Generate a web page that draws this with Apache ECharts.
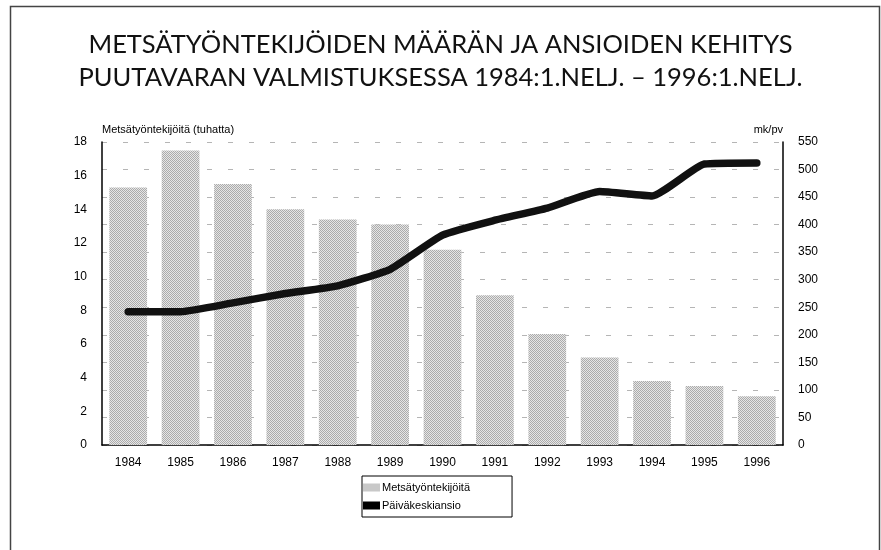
<!DOCTYPE html>
<html>
<head>
<meta charset="utf-8">
<script src="https://cdn.jsdelivr.net/npm/echarts@6/dist/echarts.min.js"></script>
<style>
  html, body { margin: 0; padding: 0; background: #fff; }
  #chart { width: 881px; height: 550px; }
</style>
</head>
<body>
<div id="chart"></div>
<script>
// vuodet (x-akseli)
const years = ['1984', '1985', '1986', '1987', '1988', '1989', '1990', '1991', '1992', '1993', '1994', '1995', '1996'];
// metsätyöntekijöitä, tuhatta (vasen akseli)
const workers = [15.3, 17.5, 15.5, 14.0, 13.4, 13.1, 11.6, 8.9, 6.6, 5.2, 3.8, 3.5, 2.9];
// päiväkeskiansio, mk/pv (oikea akseli)
const wages = [242, 242, 258, 275, 289, 319, 381, 408, 430, 460, 452, 510, 512];
// akseleiden jaot
const leftTicks = { min: 0, max: 18, interval: 2 };
const rightTicks = { min: 0, max: 550, interval: 50 };

// rasterikuvio pylväisiin (harmaa pisteruutu)
function makeDots() {
  const c = document.createElement('canvas');
  c.width = 2;
  c.height = 2;
  const ctx = c.getContext('2d');
  ctx.fillStyle = '#e6e6e6';
  ctx.fillRect(0, 0, 2, 2);
  ctx.fillStyle = '#ababab';
  ctx.fillRect(0, 0, 1, 1);
  ctx.fillRect(1, 1, 1, 1);
  return c;
}
const dots = { image: makeDots(), repeat: 'repeat' };

const font = 'Liberation Sans, Arial, sans-serif';
const chart = echarts.init(document.getElementById('chart'));

chart.setOption({
  animation: false,
  backgroundColor: '#fff',
  title: {
    text: 'METSÄTYÖNTEKIJÖIDEN MÄÄRÄN JA ANSIOIDEN KEHITYS\nPUUTAVARAN VALMISTUKSESSA 1984:1.NELJ. – 1996:1.NELJ.',
    left: 'center',
    top: 23,
    textStyle: {
      fontFamily: 'Lato, sans-serif',
      fontWeight: 'normal',
      fontSize: 25.5,
      lineHeight: 33,
      color: '#111',
    },
  },
  graphic: [
    { // kehys
      type: 'rect',
      shape: { x: 10.5, y: 6.5, width: 869, height: 560 },
      style: { fill: 'none', stroke: '#444', lineWidth: 1.5 },
      silent: true,
    },
  ],
  legend: {
    left: 362,
    top: 476,
    orient: 'vertical',
    itemGap: 7,
    itemWidth: 17,
    itemHeight: 8,
    padding: [6, 42, 6, 1],
    borderColor: '#000',
    borderWidth: 1,
    textStyle: { fontFamily: font, fontSize: 11, color: '#000', padding: [0, 0, 0, -3] },
    data: [
      { name: 'Metsätyöntekijöitä', icon: 'rect' },
      { name: 'Päiväkeskiansio', icon: 'rect', itemStyle: { color: '#000' } },
    ],
  },
  grid: { left: 102, right: 98, top: 142, bottom: 105 },
  xAxis: {
    type: 'category',
    data: years,
    axisLine: { lineStyle: { color: '#000', width: 1.5 } },
    axisTick: { show: false },
    axisLabel: { fontFamily: font, fontSize: 12, color: '#000', margin: 12 },
  },
  yAxis: [
    {
      type: 'value',
      ...leftTicks,
      name: 'Metsätyöntekijöitä (tuhatta)',
      nameGap: 7,
      nameTextStyle: { fontFamily: font, fontSize: 11, color: '#000', align: 'left' },
      axisLine: { show: true, lineStyle: { color: '#000', width: 1.5 } },
      axisTick: { show: false },
      splitLine: { show: false },
      axisLabel: { fontFamily: font, fontSize: 12, color: '#000', margin: 15 },
    },
    {
      type: 'value',
      position: 'right',
      ...rightTicks,
      name: 'mk/pv',
      nameGap: 7,
      nameTextStyle: { fontFamily: font, fontSize: 11, color: '#000', align: 'right' },
      axisLine: { show: true, lineStyle: { color: '#000', width: 1.5 } },
      axisTick: { show: false },
      splitLine: { show: true, lineStyle: { color: '#b5b5b5', type: [5, 16], width: 1 } },
      axisLabel: { fontFamily: font, fontSize: 12, color: '#000', margin: 15 },
    },
  ],
  series: [
    {
      name: 'Metsätyöntekijöitä',
      type: 'bar',
      yAxisIndex: 0,
      barCategoryGap: '28%',
      itemStyle: { color: dots },
      data: workers,
    },
    {
      name: 'Päiväkeskiansio',
      type: 'line',
      yAxisIndex: 1,
      showSymbol: false,
      smooth: 0.15,
      itemStyle: { color: '#000' },
      lineStyle: { color: '#111', width: 7.5, cap: 'round', join: 'round' },
      data: wages,
    },
  ],
});
</script>
</body>
</html>
